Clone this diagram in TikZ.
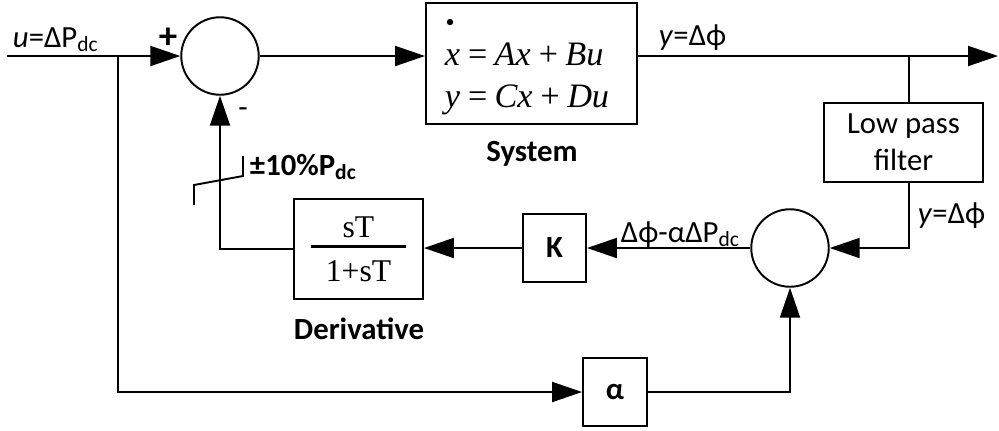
\documentclass[tikz,border=0pt]{standalone}
\usepackage{fontspec}
\setmainfont{Carlito}
\newfontfamily\eqfont{Liberation Serif}
\usetikzlibrary{arrows.meta}

\begin{document}
\begin{tikzpicture}[x=0.2mm,y=-0.2mm,>={Triangle[length=6mm,width=4mm]},line width=1.1pt,line join=miter,
  blk/.style={draw,rectangle,inner sep=0pt},
  sumnode/.style={draw,circle,inner sep=0pt,minimum size=15.5mm},
  lbl/.style={inner sep=0pt,font=\fontsize{17.5}{21}\selectfont},
  boldlbl/.style={inner sep=0pt,font=\fontsize{17.5}{21}\selectfont\bfseries}]
\useasboundingbox (0,0) rectangle (999,430);
\coordinate (in) at (7,56);
\coordinate (tapIn) at (118,56);
\coordinate (tapOut) at (909,56);
\coordinate (out) at (998,56);
\node[sumnode] (sumA) at (220,56) {};
\node[blk,minimum width=42.2mm,minimum height=24.2mm] (sys) at (531.5,63.5) {};
\node[lbl,font=\fontsize{19.5}{23.5}\selectfont\eqfont\itshape,align=left] (syseq) at (527,79) {x\,=\,Ax\,+\,Bu\\y\,=\,Cx\,+\,Du};
\node[blk,lbl,minimum width=31.8mm,minimum height=15.8mm,align=center] (lpf) at (903.5,142.5) {Low pass\\filter};
\node[sumnode] (sumB) at (790,248) {};
\node[blk,boldlbl,minimum width=12.6mm,minimum height=13.6mm] (kgain) at (554.5,248) {K};
\node[blk,minimum width=25.8mm,minimum height=20mm,font=\fontsize{18}{20}\selectfont\eqfont,align=center] (deriv) at (358.5,249) {sT\\[-14pt]\rule{19mm}{1.8pt}\\[-1pt]1+sT};
\node[blk,boldlbl,minimum width=12.8mm,minimum height=13.6mm] (alpha) at (615,392) {α};
% labels
\node[lbl,anchor=base west] (uLbl) at (12,47) {\textit{u}=ΔP\textsubscript{dc}};
\node[lbl,font=\fontsize{21}{21}\selectfont\bfseries] (plus) at (168,38) {+};
\node[lbl] (minus) at (243,113) {-};
\node[lbl,anchor=base west] (yOut) at (658,45) {\textit{y}=Δϕ};
\node[lbl,anchor=base west] (yLpf) at (917,223) {\textit{y}=Δϕ};
\node[lbl,anchor=base west] (errLbl) at (620,242) {Δϕ-αΔP\textsubscript{dc}};
\node[boldlbl,anchor=base west] (satLbl) at (249,175) {±10\%P\textsubscript{dc}};
\node[boldlbl,anchor=base] (sysLbl) at (532,161) {System};
\node[boldlbl,anchor=base] (derivLbl) at (359,339) {Derivative};
% connectors
\draw[->] (in) -- (sumA);
\draw[->] (sumA.east) -- (sumA.east -| sys.west);
\draw[->] (tapOut -| sys.east) -- (out);
\draw (tapOut) -- (tapOut |- lpf.north);
\draw[->] (tapOut |- lpf.south) |- (sumB);
\draw[->] (sumB) -- (kgain);
\draw[->] (kgain) -- (deriv.east |- kgain);
\draw[->] (deriv) -| (sumA);
\draw[->] (tapIn) |- (alpha);
\draw[->] (alpha) -| (sumB);
% dot over x and saturation
\fill (sys.north west) ++(25,20) circle (3.2);
\draw (194,205) -- (194,185) -- (243,176) -- (243,156);
\end{tikzpicture}
\end{document}
